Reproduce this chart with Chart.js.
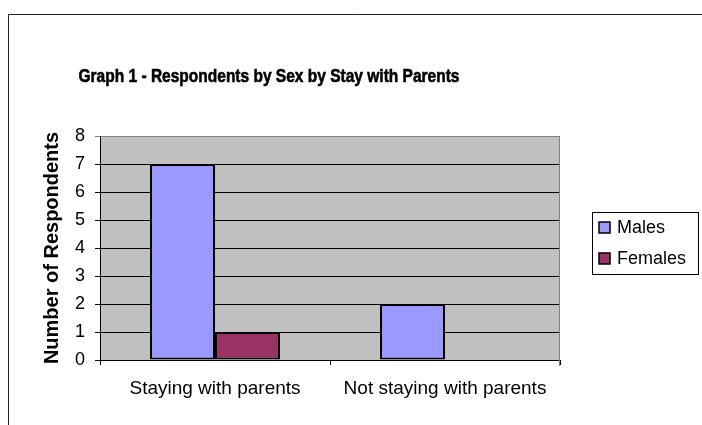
<!DOCTYPE html>
<html>
<head>
<meta charset="utf-8">
<script src="https://cdn.jsdelivr.net/npm/chart.js@4"></script>
<style>
  body { margin: 0; background: #fff; }
  canvas { display: block; }
</style>
</head>
<body>
<canvas id="chart" width="702" height="425"></canvas>
<script>
const categories = ['Staying with parents', 'Not staying with parents'];
const males = [7, 2];
const females = [1, 0];
const seriesNames = ['Males', 'Females'];
const seriesColors = ['#9999FF', '#993366'];
const chartTitle = 'Graph 1 - Respondents by Sex by Stay with Parents';
const yTitle = 'Number of Respondents';
const yMax = 8;

const FONT = "'Liberation Sans', Arial, sans-serif";

// frame, plot background, title and legend box
const excelLook = {
    id: 'excelLook',
    beforeDraw(chart) {
        const { ctx, chartArea: a } = chart;
        ctx.save();
        ctx.fillStyle = '#C0C0C0';
        ctx.fillRect(a.left, a.top, a.right - a.left, a.bottom - a.top);
        ctx.restore();
    },
    beforeDatasetsDraw(chart) {
        const { ctx, chartArea: a } = chart;
        ctx.save();
        ctx.strokeStyle = '#808080';
        ctx.lineWidth = 1;
        ctx.beginPath();
        ctx.moveTo(Math.round(a.right) - 0.5, a.top);
        ctx.lineTo(Math.round(a.right) - 0.5, a.bottom + 6);
        ctx.stroke();
        ctx.restore();
    },
    afterDraw(chart) {
        const ctx = chart.ctx;
        ctx.save();
        // outer frame
        ctx.strokeStyle = '#222';
        ctx.lineWidth = 1;
        ctx.beginPath();
        ctx.moveTo(702, 14.5);
        ctx.lineTo(8.5, 14.5);
        ctx.lineTo(8.5, 425);
        ctx.stroke();

        // title (condensed, like the original)
        ctx.fillStyle = '#000';
        ctx.strokeStyle = '#000';
        ctx.font = 'bold 19px ' + FONT;
        ctx.textAlign = 'center';
        ctx.textBaseline = 'middle';
        const w = ctx.measureText(chartTitle).width;
        const sx = 381 / w;
        ctx.save();
        ctx.translate(269, 77);
        ctx.scale(sx, 1);
        ctx.fillText(chartTitle, 0, 0);
        ctx.lineWidth = 0.6;
        ctx.strokeText(chartTitle, 0, 0);
        ctx.restore();

        // legend
        ctx.fillStyle = '#fff';
        ctx.fillRect(592.5, 212.5, 106, 62);
        ctx.strokeStyle = '#000';
        ctx.lineWidth = 1;
        ctx.strokeRect(592.5, 212.5, 106, 62);
        ctx.font = '18px ' + FONT;
        ctx.textAlign = 'left';
        chart.data.datasets.forEach((ds, i) => {
            const cy = 227 + i * 31;
            ctx.fillStyle = ds.backgroundColor;
            ctx.fillRect(599, cy - 5, 11, 11);
            ctx.lineWidth = 1.5;
            ctx.strokeStyle = '#000';
            ctx.strokeRect(599, cy - 5, 11, 11);
            ctx.fillStyle = '#000';
            ctx.fillText(ds.label, 617, cy + 1);
        });
        ctx.restore();
    }
};

new Chart(document.getElementById('chart'), {
    type: 'bar',
    data: {
        labels: categories,
        datasets: [
            {
                label: seriesNames[0],
                data: males,
                backgroundColor: seriesColors[0],
                borderColor: '#000',
                borderWidth: 2,
                borderSkipped: false,
                barPercentage: 1,
                categoryPercentage: 0.565
            },
            {
                label: seriesNames[1],
                data: females,
                backgroundColor: seriesColors[1],
                borderColor: '#000',
                borderWidth: 2,
                borderSkipped: false,
                barPercentage: 1,
                categoryPercentage: 0.565
            }
        ]
    },
    options: {
        responsive: false,
        animation: false,
        layout: { padding: { left: 8, top: 136, right: 142, bottom: 0 } },
        plugins: {
            legend: { display: false },
            title: { display: false },
            tooltip: { enabled: false }
        },
        scales: {
            x: {
                afterFit: s => { s.height = 65; },
                border: { color: '#000', width: 1 },
                grid: { drawOnChartArea: false, drawTicks: true, tickLength: 5, color: '#000', offset: true },
                ticks: { color: '#000', font: { family: FONT, size: 19 }, padding: 12, maxRotation: 0 }
            },
            y: {
                min: 0,
                max: yMax,
                afterFit: s => { s.width = 92; },
                border: { color: '#000', width: 1 },
                grid: {
                    color: c => (c.tick && c.tick.value === yMax ? '#808080' : '#000'),
                    tickLength: 5
                },
                ticks: { stepSize: 1, color: '#000', font: { family: FONT, size: 18 }, padding: 10 },
                title: {
                    display: true,
                    text: yTitle,
                    color: '#000',
                    font: { family: FONT, size: 20, weight: 'bold' },
                    padding: { top: 32, bottom: 0 }
                }
            }
        }
    },
    plugins: [excelLook]
});
</script>
</body>
</html>
